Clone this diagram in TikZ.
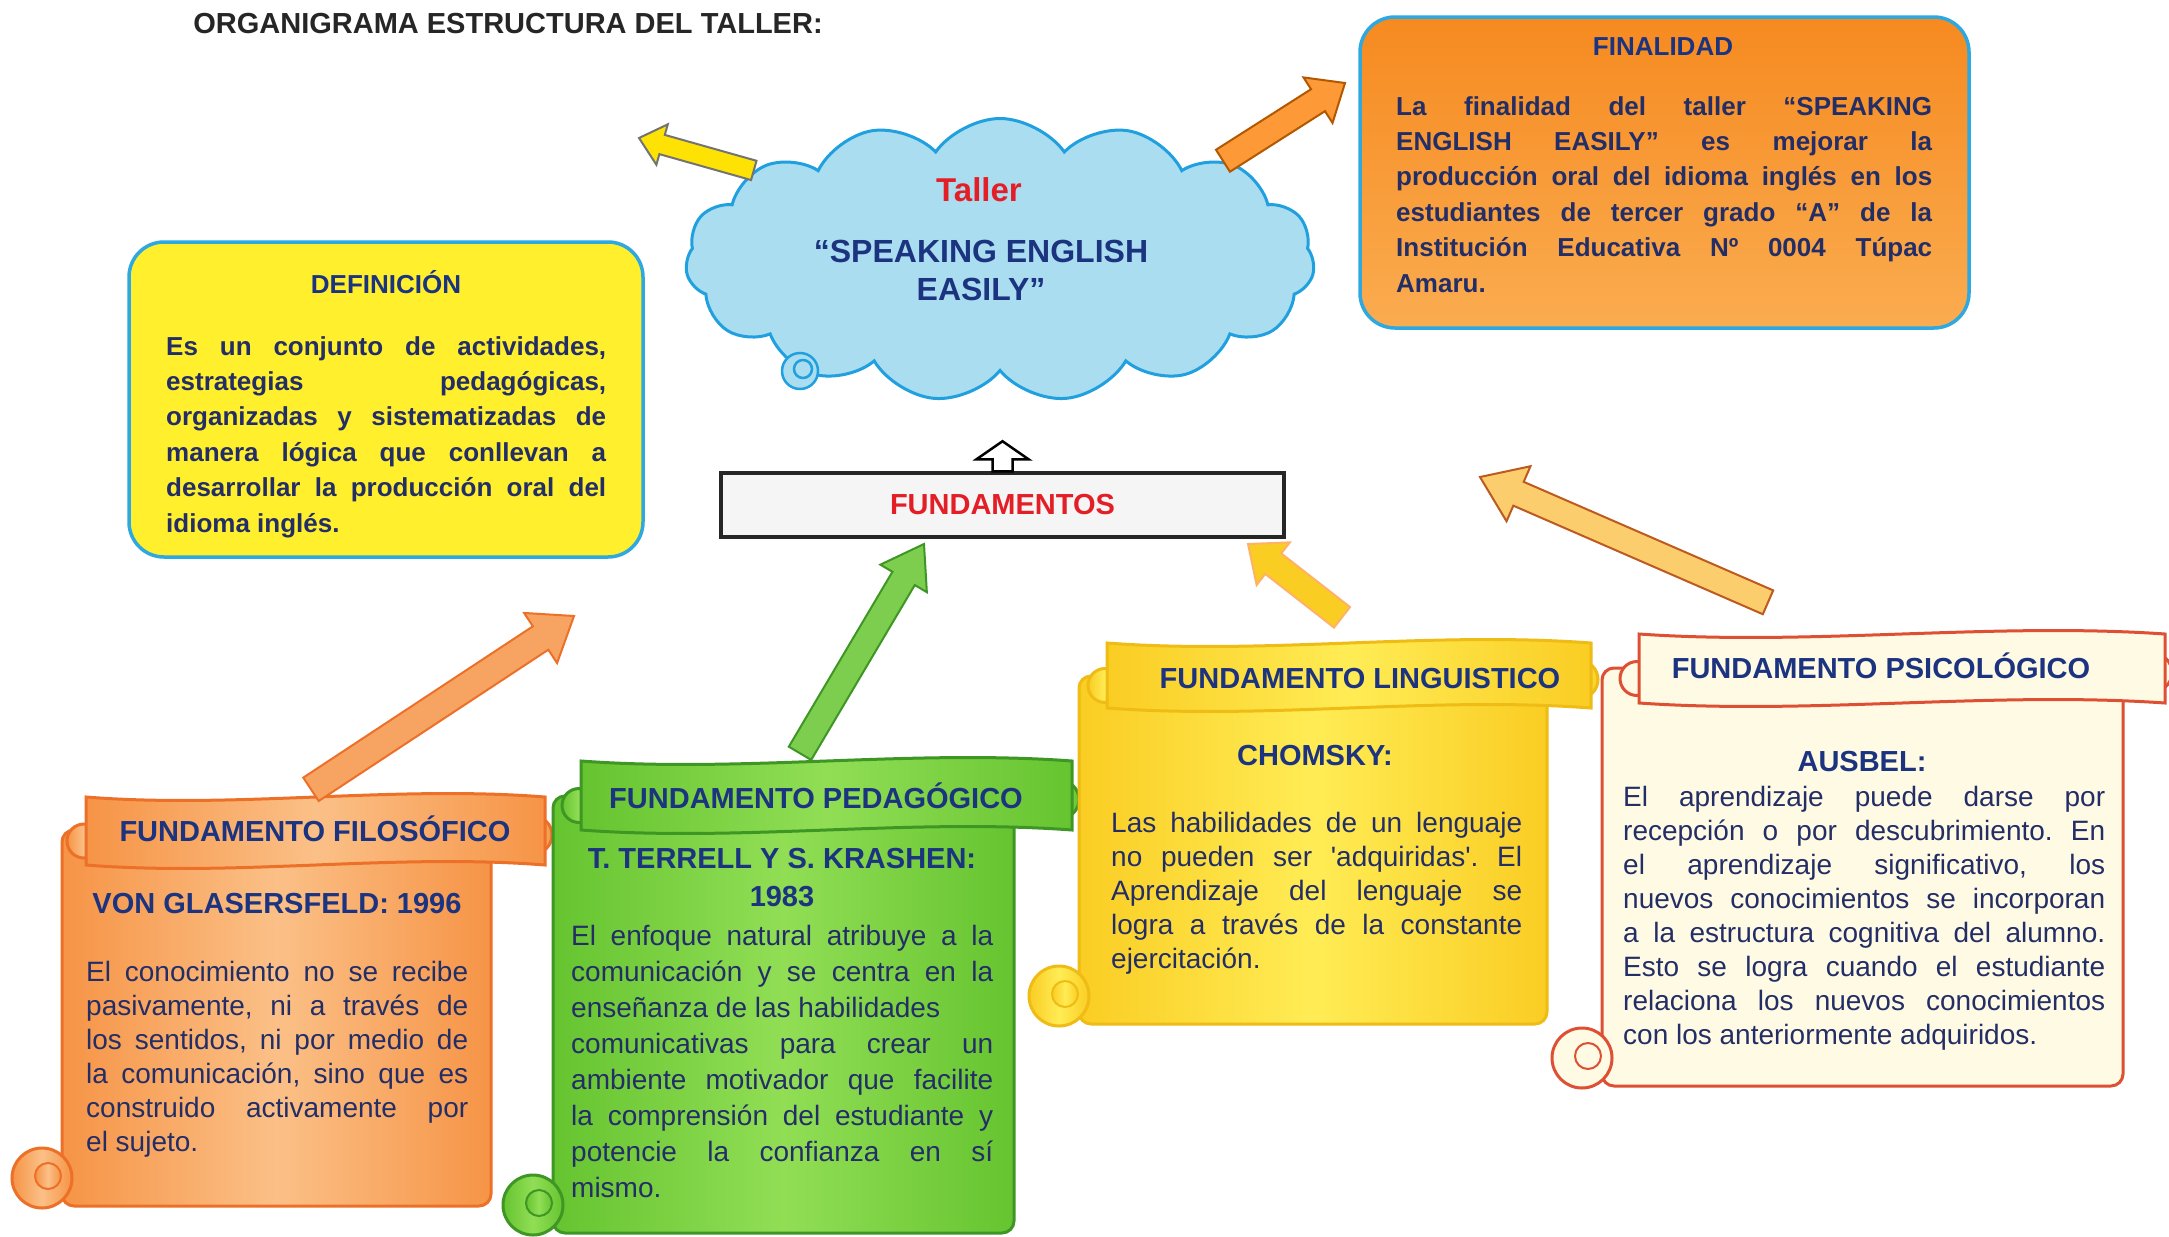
\documentclass[tikz,border=0pt]{standalone}
\usepackage{fontspec}
\setmainfont{Liberation Sans}
\usetikzlibrary{positioning,calc,shapes.symbols}

\definecolor{headblue}{RGB}{28,52,128}
\definecolor{bodyblue}{RGB}{36,46,102}
\definecolor{fundred}{RGB}{228,30,38}
\definecolor{cloudfill}{RGB}{170,221,240}
\definecolor{cloudline}{RGB}{32,160,222}
\definecolor{defyellow}{RGB}{255,239,45}
\definecolor{boxblue}{RGB}{45,168,224}
\definecolor{finA}{RGB}{246,138,32}
\definecolor{finB}{RGB}{250,172,80}
\definecolor{filoA}{RGB}{246,148,70}
\definecolor{filoB}{RGB}{251,192,135}
\definecolor{filoline}{RGB}{236,112,40}
\definecolor{pedaA}{RGB}{102,196,48}
\definecolor{pedaB}{RGB}{145,222,85}
\definecolor{pedaline}{RGB}{62,150,36}
\definecolor{lingA}{RGB}{250,205,35}
\definecolor{lingB}{RGB}{255,236,85}
\definecolor{lingline}{RGB}{238,188,20}
\definecolor{psicfill}{RGB}{255,250,228}
\definecolor{psicline}{RGB}{222,80,52}

\hyphenpenalty=10000
\exhyphenpenalty=10000
\tolerance=10000
\frenchspacing

% block arrow: style, from, to, half shaft, half head, head length
\newcommand{\blockarrow}[6]{%
  \coordinate (ba-c) at ($(#3)!#6!(#2)$);
  \draw[#1] ($(#2)!#4!90:(#3)$) -- ($(ba-c)!#4!90:(#3)$) -- ($(ba-c)!#5!90:(#3)$)
    -- (#3) -- ($(ba-c)!#5!-90:(#3)$) -- ($(ba-c)!#4!-90:(#3)$) -- ($(#2)!#4!-90:(#3)$) -- cycle;
}
% scroll: style, body box (x1,y1,x2,y2), ribbon box (x1,y1,x2,y2)
\newcommand{\pergamino}[9]{%
  \draw[#1, rounded corners=12pt] (#2,#3) rectangle (#4,#5);
  \draw[#1] ({#2-20},{#5-28}) circle[radius=30pt];
  \draw[#1, line width=2pt] ({#2-14},{#5-30}) circle[radius=13pt];
  \draw[#1] ({#6-2},{(#7+#9)/2+10}) circle[radius=17pt];
  \draw[#1] ({#8-12},{(#7+#9)/2+4}) circle[radius=19pt];
  \draw[#1] (#6,#7) .. controls ({#6+(#8-#6)*0.33},{#7+12}) and ({#6+(#8-#6)*0.67},{#7-12}) .. (#8,#7)
    -- (#8,#9) .. controls ({#6+(#8-#6)*0.67},{#9-12}) and ({#6+(#8-#6)*0.33},{#9+12}) .. (#6,#9) -- cycle;
}

\tikzset{
  titletxt/.style={font=\fontsize{29}{34}\selectfont\bfseries, text=black!85, inner sep=0pt},
  boxtitle/.style={font=\fontsize{26}{30}\selectfont\bfseries, text=headblue, inner sep=0pt,
    text height=19pt, text depth=0pt},
  head/.style={font=\fontsize{29}{34}\selectfont\bfseries, text=headblue, inner sep=0pt,
    text height=21pt, text depth=0pt},
  boldtxt/.style={font=\fontsize{26}{35.4}\selectfont\bfseries, text=bodyblue, align=justify,
    inner sep=0pt, anchor=north west},
  bodytxt/.style={font=\fontsize{28}{34}\selectfont, text=bodyblue, align=justify,
    inner sep=0pt, anchor=north west},
  taller/.style={cloud, cloud puffs=15, cloud puff arc=110, cloud ignores aspect,
    minimum width=629pt, minimum height=283pt, inner sep=0pt,
    draw=cloudline, fill=cloudfill, line width=3pt},
  bubble/.style={draw=cloudline, fill=cloudfill, line width=2.5pt},
  defbox/.style={draw=boxblue, fill=defyellow, line width=3.5pt, rounded corners=35pt,
    minimum width=514pt, minimum height=315pt},
  finbox/.style={draw=boxblue, top color=finA, bottom color=finB, line width=3.5pt,
    rounded corners=35pt, minimum width=609pt, minimum height=311pt},
  fundbox/.style={draw=black!85, fill=black!4, line width=3.5pt, minimum width=563pt,
    minimum height=64pt, font=\fontsize{29}{34}\selectfont\bfseries, text=fundred},
  filo/.style={left color=filoA, right color=filoA, middle color=filoB, draw=filoline, line width=3pt},
  peda/.style={left color=pedaA, right color=pedaA, middle color=pedaB, draw=pedaline, line width=3pt},
  ling/.style={left color=lingA, right color=lingA, middle color=lingB, draw=lingline, line width=3pt},
  psic/.style={fill=psicfill, draw=psicline, line width=3pt},
  arrowyel/.style={fill=yellow!85!orange, draw=black!55, line width=2pt},
  arroworg/.style={fill=orange!60!filoB, draw=orange!70!black, line width=2pt},
  arrowhollow/.style={fill=white, draw=black, line width=2.5pt},
  arrowgreen/.style={fill=pedaA!85!white, draw=pedaline, line width=2pt},
  arrowgold/.style={fill=lingA, draw=orange!60, line width=2pt},
  arrowpeach/.style={fill=filoB!80!yellow, draw=filoline!80!black, line width=2pt},
  arrowfilo/.style={fill=filoA!85!white, draw=filoline, line width=2pt},
}

\begin{document}
\begin{tikzpicture}[x=1pt, y=-1pt]
\fill[white] (0,0) rectangle (2169,1237);
\useasboundingbox (0,0) rectangle (2169,1237);

% ---- title ------------------------------------------------------------------
\node[titletxt] (title) at (508,24) {ORGANIGRAMA ESTRUCTURA DEL TALLER:};

% ---- taller (cloud) ---------------------------------------------------------
\node[taller] (cloud) at (1000,260) {};
\draw[bubble] (800,371) circle[radius=18pt];
\draw[bubble] (803,369) circle[radius=9pt];
\node[font=\fontsize{33}{38}\selectfont\bfseries, text=fundred, inner sep=0pt] (taller-lbl) at (979,190) {Taller};
\node[font=\fontsize{32}{38}\selectfont\bfseries, text=headblue, align=center, inner sep=0pt,
  anchor=north] (taller-name) at (981,240) {“SPEAKING ENGLISH\\EASILY”};

% ---- definicion and finalidad -----------------------------------------------
\node[defbox] (def) at (386,399.5) {};
\node[boxtitle] (def-title) at (386,284) {DEFINICIÓN};
\node[boldtxt, text width=440pt] (def-text) at (166,336) {Es un conjunto de actividades,\linebreak
  estrategias pedagógicas,\linebreak organizadas y sistematizadas de\linebreak
  manera lógica que conllevan a\linebreak desarrollar la producción oral del\linebreak idioma inglés.};

\node[finbox] (fin) at (1664.5,172.5) {};
\node[boxtitle] (fin-title) at (1663,46) {FINALIDAD};
\node[boldtxt, text width=536pt] (fin-text) at (1396,96) {La finalidad del taller “SPEAKING\linebreak
  ENGLISH EASILY” es mejorar la\linebreak producción oral del idioma inglés en los\linebreak
  estudiantes de tercer grado “A” de la\linebreak Institución Educativa Nº 0004 Túpac\linebreak Amaru.};

% ---- fundamentos ------------------------------------------------------------
\node[fundbox] (fund) at (1002.5,505) {FUNDAMENTOS};

% ---- scrolls ----------------------------------------------------------------
\pergamino{filo}{62}{830}{491}{1206}{86}{797}{545}{865}
\pergamino{peda}{553}{796}{1014}{1233}{581}{761}{1072}{830}
\pergamino{ling}{1079}{676}{1547}{1024}{1107}{643}{1591}{708}
\pergamino{psic}{1602}{668}{2123}{1086}{1639}{634}{2165}{703}

\node[head] (filo-head) at (315,831) {FUNDAMENTO FILOSÓFICO};
\node[head] (filo-sub) at (277,903) {VON GLASERSFELD: 1996};
\node[bodytxt, text width=382pt] (filo-text) at (86,961) {El conocimiento no se recibe\linebreak
  pasivamente, ni a través de\linebreak los sentidos, ni por medio de\linebreak
  la comunicación, sino que es\linebreak construido activamente por\linebreak el sujeto.};

\node[head] (peda-head) at (816,798) {FUNDAMENTO PEDAGÓGICO};
\node[head] (peda-sub) at (782,858) {T. TERRELL Y S. KRASHEN:};
\node[head, below=17pt of peda-sub] (peda-year) {1983};
\node[bodytxt, text width=422pt, font=\fontsize{28}{36}\selectfont] (peda-text) at (571,925)
  {El enfoque natural atribuye a la\linebreak comunicación y se centra en la\linebreak
  enseñanza de las habilidades\\ comunicativas para crear un\linebreak
  ambiente motivador que facilite\linebreak la comprensión del estudiante y\linebreak
  potencie la confianza en sí\linebreak mismo.};

\node[head] (ling-head) at (1360,678) {FUNDAMENTO LINGUISTICO};
\node[head] (ling-sub) at (1315,755) {CHOMSKY:};
\node[bodytxt, text width=411pt] (ling-text) at (1111,812) {Las habilidades de un lenguaje\linebreak
  no pueden ser \textquotesingle adquiridas\textquotesingle. El\linebreak Aprendizaje del lenguaje se\linebreak
  logra a través de la constante\linebreak ejercitación.};

\node[head] (psic-head) at (1881,668) {FUNDAMENTO PSICOLÓGICO};
\node[head] (psic-sub) at (1862,761) {AUSBEL:};
\node[bodytxt, text width=482pt] (psic-text) at (1623,786) {El aprendizaje puede darse por\linebreak
  recepción o por descubrimiento. En\linebreak el aprendizaje significativo, los\linebreak
  nuevos conocimientos se incorporan\linebreak a la estructura cognitiva del alumno.\linebreak
  Esto se logra cuando el estudiante\linebreak relaciona los nuevos conocimientos\linebreak
  con los anteriormente adquiridos.};

% ---- arrows -----------------------------------------------------------------
\coordinate (def-tip) at (639,138);
\coordinate (fin-tip) at (1345,83);
\coordinate[above=30pt of fund.north] (fund-tip);
\coordinate (filo-out) at ($(filo-head.north)+(-4,-31)$);
\coordinate (filo-tip) at (574,616);
\coordinate (peda-out) at ($(peda-head.north)+(-16,-34)$);
\coordinate (peda-tip) at (924,544);
\coordinate (ling-out) at ($(ling-head.north)+(-18,-50)$);
\coordinate (ling-tip) at (1248,544);
\coordinate (psic-out) at ($(psic-head.north)+(-113,-55)$);
\coordinate (psic-tip) at (1480,477);

\blockarrow{arrowyel}{cloud.160}{def-tip}{10pt}{21pt}{24pt}
\blockarrow{arroworg}{cloud.24}{fin-tip}{13pt}{27pt}{32pt}
\blockarrow{arrowhollow}{fund.north}{fund-tip}{10pt}{26pt}{18pt}
\blockarrow{arrowfilo}{filo-out}{filo-tip}{14pt}{30pt}{40pt}
\blockarrow{arrowgreen}{peda-out}{peda-tip}{13pt}{27pt}{40pt}
\blockarrow{arrowgold}{ling-out}{ling-tip}{13pt}{27pt}{32pt}
\blockarrow{arrowpeach}{psic-out}{psic-tip}{13pt}{30pt}{42pt}

\end{tikzpicture}
\end{document}
